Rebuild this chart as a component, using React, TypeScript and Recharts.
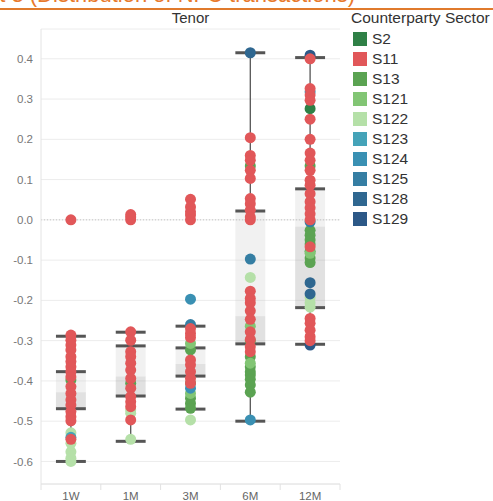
import React from "react";
import {
  ComposedChart,
  Scatter,
  XAxis,
  YAxis,
  CartesianGrid,
  ReferenceArea,
  ReferenceLine,
} from "recharts";

// ---------- data ----------
const tenors = ["1W", "1M", "3M", "6M", "12M"];
const yTicks = [-0.6, -0.5, -0.4, -0.3, -0.2, -0.1, 0, 0.1, 0.2, 0.3, 0.4];

const sectors = ["S2", "S11", "S13", "S121", "S122", "S123", "S124", "S125", "S128", "S129"];
const sectorColors = ["#2f8046", "#e15759", "#5ba352", "#82c574", "#b5e0a8", "#45a3b8", "#3a90b3", "#357ea3", "#2f6790", "#2c5887"];

// box plot statistics per tenor
const whiskerHigh = [-0.289, -0.279, -0.264, 0.415, 0.403];
const q3 = [-0.377, -0.313, -0.318, 0.022, 0.077];
const median = [-0.428, -0.389, -0.358, -0.239, -0.017];
const q1 = [-0.469, -0.4375, -0.388, -0.308, -0.218];
const whiskerLow = [-0.6, -0.55, -0.47, -0.5, -0.309];

// points per sector: [tenor, value]
const pointsS2: [string, number][] = [["12M", 0.276]];
const pointsS11: [string, number][] = [
  ["1W", 0.0], ["1W", -0.286], ["1W", -0.299], ["1W", -0.311], ["1W", -0.323], ["1W", -0.34], ["1W", -0.352],
  ["1W", -0.365], ["1W", -0.377], ["1W", -0.39], ["1W", -0.414], ["1W", -0.431], ["1W", -0.447], ["1W", -0.46],
  ["1W", -0.476], ["1W", -0.489], ["1W", -0.499], ["1W", -0.545],
  ["1M", 0.0], ["1M", 0.007], ["1M", 0.013], ["1M", -0.278], ["1M", -0.299], ["1M", -0.3275], ["1M", -0.34],
  ["1M", -0.356], ["1M", -0.373], ["1M", -0.394], ["1M", -0.418], ["1M", -0.439], ["1M", -0.452], ["1M", -0.464],
  ["1M", -0.497],
  ["3M", 0.051], ["3M", 0.032], ["3M", 0.02], ["3M", 0.012], ["3M", 0.0], ["3M", -0.27], ["3M", -0.282],
  ["3M", -0.292], ["3M", -0.348], ["3M", -0.36], ["3M", -0.377], ["3M", -0.394], ["3M", -0.406],
  ["6M", 0.204], ["6M", 0.16], ["6M", 0.148], ["6M", 0.123], ["6M", 0.103], ["6M", 0.053], ["6M", 0.04],
  ["6M", 0.024], ["6M", 0.007], ["6M", 0.0], ["6M", -0.177], ["6M", -0.195], ["6M", -0.206], ["6M", -0.226],
  ["6M", -0.247], ["6M", -0.278], ["6M", -0.297], ["6M", -0.315], ["6M", -0.3275],
  ["12M", 0.4], ["12M", 0.326], ["12M", 0.31], ["12M", 0.297], ["12M", 0.25], ["12M", 0.2], ["12M", 0.166],
  ["12M", 0.148], ["12M", 0.123], ["12M", 0.0985], ["12M", 0.086], ["12M", 0.065], ["12M", 0.045], ["12M", 0.03],
  ["12M", 0.015], ["12M", 0.0], ["12M", -0.067], ["12M", -0.245], ["12M", -0.257], ["12M", -0.274], ["12M", -0.29],
  ["12M", -0.3],
];
const pointsS13: [string, number][] = [
  ["1W", -0.398], ["1M", -0.406],
  ["3M", -0.323], ["3M", -0.406], ["3M", -0.443], ["3M", -0.456], ["3M", -0.468],
  ["6M", 0.134], ["6M", -0.3], ["6M", -0.34], ["6M", -0.365], ["6M", -0.377], ["6M", -0.385], ["6M", -0.396],
  ["6M", -0.41], ["6M", -0.428],
  ["12M", 0.134], ["12M", -0.026], ["12M", -0.038], ["12M", -0.05], ["12M", -0.06], ["12M", -0.078],
  ["12M", -0.095], ["12M", -0.106],
];
const pointsS121: [string, number][] = [
  ["3M", -0.307], ["3M", -0.431], ["6M", -0.264], ["6M", -0.356], ["12M", -0.083],
];
const pointsS122: [string, number][] = [
  ["1W", -0.529], ["1W", -0.555], ["1W", -0.576], ["1W", -0.592], ["1W", -0.6],
  ["1M", -0.472], ["1M", -0.48], ["1M", -0.545], ["3M", -0.497], ["6M", -0.143],
  ["12M", -0.193], ["12M", -0.206], ["12M", -0.217],
];
const pointsS123: [string, number][] = [["1W", -0.54]];
const pointsS124: [string, number][] = [["3M", -0.197], ["3M", -0.418], ["6M", -0.497], ["12M", 0.318]];
const pointsS125: [string, number][] = [["3M", -0.26], ["6M", -0.0975], ["12M", -0.005]];
const pointsS128: [string, number][] = [["6M", 0.415], ["12M", -0.156], ["12M", -0.184]];
const pointsS129: [string, number][] = [["12M", 0.409], ["12M", -0.311]];

const sectorPoints = [pointsS2, pointsS11, pointsS13, pointsS121, pointsS122, pointsS123, pointsS124, pointsS125, pointsS128, pointsS129];
// draw order: red on top
const drawOrder = [0, 2, 3, 4, 5, 6, 7, 8, 9, 1];

const FONT = "'Liberation Sans', Arial, sans-serif";

const toXY = (pts: [string, number][]) =>
  pts.map(([t, v]) => ({ x: tenors.indexOf(t) + 0.5, y: v }));

const xTicks = [0, 0.5, 1, 1.5, 2, 2.5, 3, 3.5, 4, 4.5, 5];

const XTick = (props: any) => {
  const { x, y, payload } = props;
  const v = payload.value as number;
  if (Number.isInteger(v)) {
    return <line x1={x} x2={x} y1={y - 8} y2={y - 2} stroke="#e2e2e2" />;
  }
  return (
    <text x={x} y={y} dy="0.71em" textAnchor="middle" fill="#666" fontSize={11.5} fontFamily={FONT}>
      {tenors[Math.floor(v)]}
    </text>
  );
};

export default function App() {
  return (
    <div style={{ position: "absolute", left: 0, top: 0, width: 493, height: 501, overflow: "hidden", background: "#fff", fontFamily: FONT }}>
      {/* cropped report title */}
      <div style={{ position: "absolute", right: 493 - 355, top: -17, whiteSpace: "nowrap", color: "#e8792b", fontSize: 22, lineHeight: "24px" }}>
        Chart 3 (Distribution of NFC transactions)
      </div>
      <div style={{ position: "absolute", left: 0, top: 8, width: 493, height: 2, background: "#e07a2c" }} />
      {/* axis title */}
      <div style={{ position: "absolute", left: 41, width: 299, top: 9, textAlign: "center", color: "#333", fontSize: 15, lineHeight: "18px" }}>
        Tenor
      </div>
      {/* legend */}
      <div style={{ position: "absolute", left: 351, top: 9, whiteSpace: "nowrap", color: "#333", fontSize: 15.5, lineHeight: "18px" }}>
        Counterparty Sector
      </div>
      {sectors.map((s, i) => (
        <div key={s} style={{ position: "absolute", left: 353, top: 32 + i * 20, height: 14, display: "flex", alignItems: "center" }}>
          <div style={{ width: 14, height: 14, background: sectorColors[i] }} />
          <div style={{ marginLeft: 5, color: "#333", fontSize: 15.5, lineHeight: "14px", position: "relative", top: 0 }}>{s}</div>
        </div>
      ))}
      <ComposedChart
        width={493}
        height={501}
        margin={{ top: 29, right: 153, bottom: 0, left: 0 }}
        style={{ position: "absolute", left: 0, top: 0 }}
      >
        <CartesianGrid horizontal vertical={false} stroke="#ececec" />
        <XAxis
          type="number"
          dataKey="x"
          domain={[0, 5]}
          ticks={xTicks}
          interval={0}
          height={17}
          tickSize={6}
          tickMargin={2}
          tickLine={false}
          axisLine={{ stroke: "#e4e4e4" }}
          tick={<XTick />}
          allowDataOverflow
        />
        <YAxis
          type="number"
          dataKey="y"
          domain={[-0.656, 0.474]}
          ticks={yTicks}
          interval={0}
          width={41}
          tickLine={false}
          tickSize={6}
          tickMargin={2}
          axisLine={{ stroke: "#e4e4e4" }}
          tick={{ fill: "#777", fontSize: 11.5, fontFamily: FONT }}
          tickFormatter={(v: number) => v.toFixed(1)}
          allowDataOverflow
        />
        <ReferenceLine y={0} stroke="#c4c4c4" strokeDasharray="1 2" />
        {drawOrder.map((si) => (
          <Scatter
            key={sectors[si]}
            name={sectors[si]}
            data={toXY(sectorPoints[si])}
            fill={sectorColors[si]}
            isAnimationActive={false}
            shape={(p: any) => <circle cx={p.cx} cy={p.cy} r={5.5} fill={sectorColors[si]} />}
          />
        ))}
        {tenors.map((t, i) => (
          <ReferenceArea key={"u" + t} x1={i + 0.25} x2={i + 0.75} y1={median[i]} y2={q3[i]} fill="#c8c8c8" fillOpacity={0.25} stroke="none" />
        ))}
        {tenors.map((t, i) => (
          <ReferenceArea key={"l" + t} x1={i + 0.25} x2={i + 0.75} y1={q1[i]} y2={median[i]} fill="#9c9c9c" fillOpacity={0.3} stroke="none" />
        ))}
        {tenors.map((t, i) => (
          <ReferenceLine key={"wh" + t} segment={[{ x: i + 0.5, y: q3[i] }, { x: i + 0.5, y: whiskerHigh[i] }]} stroke="#555" strokeWidth={1.3} />
        ))}
        {tenors.map((t, i) => (
          <ReferenceLine key={"wl" + t} segment={[{ x: i + 0.5, y: q1[i] }, { x: i + 0.5, y: whiskerLow[i] }]} stroke="#555" strokeWidth={1.3} />
        ))}
        {tenors.map((t, i) =>
          [whiskerHigh[i], q3[i], q1[i], whiskerLow[i]].map((v, k) => (
            <ReferenceLine key={"c" + t + k} segment={[{ x: i + 0.25, y: v }, { x: i + 0.75, y: v }]} stroke="#555" strokeWidth={3} />
          ))
        )}
      </ComposedChart>
    </div>
  );
}
